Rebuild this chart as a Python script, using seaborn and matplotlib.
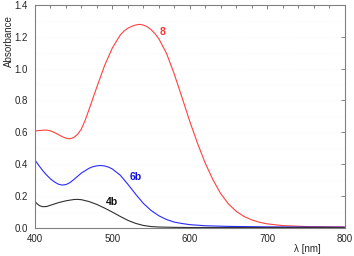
import numpy as np
import pandas as pd
import seaborn as sns
import matplotlib.pyplot as plt
from matplotlib.ticker import MultipleLocator

# compound 8 (red)
wl_8 = [400, 405, 410, 415, 420, 425, 430, 435, 440, 445, 450, 455, 460, 465,
        470, 480, 490, 500, 510, 515, 520, 525, 530, 535, 540, 545, 550, 555,
        560, 570, 580, 590, 600, 610, 620, 630, 640, 650, 660, 670, 680, 690,
        700, 720, 750, 800]
abs_8 = [0.607, 0.610, 0.612, 0.613, 0.608, 0.598, 0.585, 0.572, 0.562, 0.558,
         0.566, 0.586, 0.620, 0.677, 0.745, 0.885, 1.020, 1.130, 1.210, 1.236,
         1.254, 1.266, 1.274, 1.278, 1.274, 1.263, 1.245, 1.220, 1.188, 1.095,
         0.965, 0.818, 0.668, 0.530, 0.405, 0.300, 0.213, 0.148, 0.102, 0.070,
         0.048, 0.033, 0.023, 0.012, 0.006, 0.003]

# compound 6b (blue)
wl_6b = [400, 405, 410, 415, 420, 425, 430, 435, 440, 445, 450, 460, 470, 475,
         480, 485, 490, 495, 500, 510, 520, 530, 540, 550, 560, 570, 580, 590,
         600, 620, 650, 700, 800]
abs_6b = [0.424, 0.390, 0.358, 0.330, 0.306, 0.287, 0.273, 0.267, 0.270, 0.282,
          0.301, 0.343, 0.373, 0.383, 0.388, 0.390, 0.387, 0.380, 0.368, 0.330,
          0.272, 0.210, 0.152, 0.107, 0.074, 0.050, 0.034, 0.025, 0.018, 0.011,
          0.007, 0.004, 0.002]

# compound 4b (black)
wl_4b = [400, 403, 406, 410, 415, 420, 430, 440, 450, 455, 460, 470, 480, 490,
         500, 510, 520, 530, 540, 550, 560, 580, 600, 800]
abs_4b = [0.163, 0.148, 0.137, 0.131, 0.132, 0.140, 0.156, 0.168, 0.176, 0.177,
          0.175, 0.163, 0.145, 0.122, 0.097, 0.070, 0.045, 0.026, 0.013, 0.006,
          0.003, 0.001, 0.000, 0.000]

series = [
    ("8", wl_8, abs_8, "#ff4040", "#ff3030", (565, 1.228)),
    ("6b", wl_6b, abs_6b, "#2a2aff", "#1010e0", (530, 0.316)),
    ("4b", wl_4b, abs_4b, "#303030", "#101010", (500, 0.162)),
]

sns.set_style("white")
plt.rcParams['font.family'] = ['Liberation Sans', 'DejaVu Sans']

fig = plt.figure(figsize=(3.54, 2.56), dpi=100)
ax = fig.add_axes([0.0989, 0.1113, 0.8743, 0.8692])

for name, wl, ab, color, tcolor, pos in series:
    df = pd.DataFrame({"wl": wl, "A": ab})
    sns.lineplot(data=df, x="wl", y="A", ax=ax, color=color, linewidth=0.8)
    ax.text(pos[0], pos[1], name, color=tcolor, fontsize=7.5,
            fontweight="bold", ha="center", va="center")

ax.set_xlim(400, 800)
ax.set_ylim(0, 1.4)
ax.xaxis.set_major_locator(MultipleLocator(100))
ax.xaxis.set_minor_locator(MultipleLocator(20))
ax.yaxis.set_major_locator(MultipleLocator(0.2))
ax.yaxis.set_major_formatter(plt.FormatStrFormatter('%.1f'))

for yy in np.arange(0.1, 1.4, 0.1):
    ax.axhline(yy, color="#eeeeee", lw=0.5, ls=(0, (1, 2)), zorder=0)

for s in ax.spines.values():
    s.set_color("#808080")
    s.set_linewidth(0.8)

ax.tick_params(axis="both", which="both", direction="out", color="#808080",
               labelsize=7, width=0.7, pad=2)
ax.tick_params(which="major", length=3)
ax.tick_params(which="minor", length=2.5)

top = ax.secondary_xaxis("top")
top.xaxis.set_major_locator(MultipleLocator(100))
top.xaxis.set_minor_locator(MultipleLocator(20))
top.tick_params(which="both", direction="in", color="#808080", width=0.7,
                labeltop=False)
top.tick_params(which="major", length=3)
top.tick_params(which="minor", length=2.5)
top.spines["top"].set_visible(False)

right = ax.secondary_yaxis("right")
right.yaxis.set_major_locator(MultipleLocator(0.2))
right.tick_params(direction="in", color="#808080", width=0.7, length=3,
                  labelright=False)
right.spines["right"].set_visible(False)

ax.set_xlabel("λ [nm]", fontsize=7, va="center")
ax.xaxis.set_label_coords(0.879, -0.097)
ax.set_ylabel("Absorbance", fontsize=7, va="center")
ax.yaxis.set_label_coords(-0.085, 0.84)

fig.savefig("out.png", dpi=100)
